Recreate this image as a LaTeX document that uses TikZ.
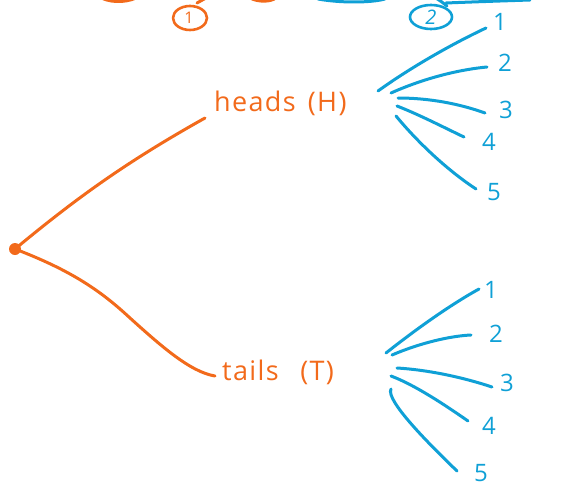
\documentclass[tikz,border=0pt]{standalone}
\usepackage{fontspec}
\setmainfont{Open Sans}
\newfontfamily\handfont[LetterSpace=5]{Open Sans}
\definecolor{tree1}{HTML}{F26A1B}
\definecolor{tree2}{HTML}{0FA0D6}
\begin{document}
\begin{tikzpicture}[x=1pt,y=-1pt,
  pen/.style={line width=3pt,line cap=round,line join=round},
  orangepen/.style={pen,draw=tree1},
  bluepen/.style={pen,draw=tree2},
  outcome/.style={text=tree1,font=\handfont\fontsize{27}{27}\selectfont,inner sep=0pt},
  digit/.style={text=tree2,font=\fontsize{24}{24}\selectfont,inner sep=0pt}]
\useasboundingbox (0,0) rectangle (570,487);
\clip (0,0) rectangle (570,487);

% braces running off the top edge, with their stage numbers
\draw[orangepen] (98,-4) .. controls (108,3) and (125,3) .. (136,-2);
\draw[orangepen] (197,3) -- (206,-2);
\draw[orangepen] (252,-1) .. controls (260,2) and (270,2) .. (276,-2);
\draw[bluepen] (318,-1) .. controls (340,3) and (370,3) .. (385,-1);
\draw[bluepen] (432,-4) .. controls (440,0) and (443,3) .. (447,6);
\draw[bluepen] (446,3) .. controls (470,2) and (500,1) .. (530,0);
\draw[orangepen,line width=2.6pt] (190,18) ellipse (17pt and 12pt);
\node[text=tree1,font=\fontsize{16}{16}\selectfont,inner sep=0pt] (s1) at (189,18) {1};
\draw[bluepen,line width=2.6pt] (431,17) ellipse (21pt and 12pt);
\node[digit,font=\fontsize{20}{20}\selectfont\itshape] (s2) at (431,17) {2};

% first stage: the coin
\fill[tree1] (15,249) circle (6pt);
\coordinate (root) at (15,249);
\node[outcome,anchor=west] (H) at (214,103) {heads\hspace{0.45em}(H)};
\node[outcome,anchor=west] (T) at (222,372) {ta\hspace{0.05em}i\hspace{0.05em}ls\hspace{0.8em}(T)};
\coordinate (Hin) at (205,118);
\coordinate (Tin) at (215,376);
\draw[orangepen] (root) .. controls (80,195) and (130,160) .. (Hin);
\draw[orangepen] (root) .. controls (70,270) and (100,290) .. (130,318)
  .. controls (160,345) and (190,372) .. (Tin);

% second stage after heads
\foreach \n/\x/\y in {1/500/22,2/505/63,3/506/110,4/489/142,5/494/192}
  \node[digit] (h\n) at (\x,\y) {\n};
\draw[bluepen] (378,91) .. controls (410,68) and (450,45) .. (486,28);
\draw[bluepen] (391,93) .. controls (420,80) and (455,70) .. (487,67);
\draw[bluepen] (398,98) .. controls (430,98) and (460,104) .. (485,113);
\draw[bluepen] (397,106) .. controls (420,115) and (445,128) .. (464,137);
\draw[bluepen] (396,116) .. controls (420,145) and (450,172) .. (476,189);

% second stage after tails
\foreach \n/\x/\y in {1/491/290,2/496/334,3/507/383,4/489/426,5/481/473}
  \node[digit] (t\n) at (\x,\y) {\n};
\draw[bluepen] (386,353) .. controls (415,330) and (450,305) .. (479,289);
\draw[bluepen] (392,355) .. controls (420,343) and (450,336) .. (471,335);
\draw[bluepen] (397,368) .. controls (430,370) and (465,378) .. (492,387);
\draw[bluepen] (391,376) .. controls (415,385) and (445,405) .. (468,421);
\draw[bluepen] (391,389) .. controls (385,400) and (430,445) .. (457,471);
\end{tikzpicture}
\end{document}
